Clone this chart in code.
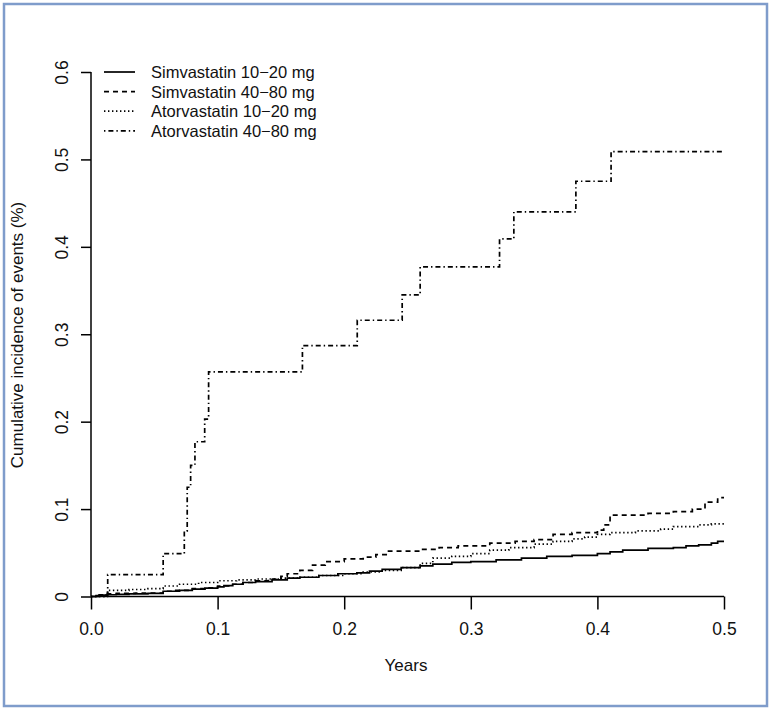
<!DOCTYPE html>
<html>
<head>
<meta charset="utf-8">
<script src="https://cdn.jsdelivr.net/npm/d3@7"></script>
<style>
  body { margin: 0; background: #fff; }
  svg { display: block; font-family: "Liberation Sans", Arial, sans-serif; }
</style>
</head>
<body>
<div id="km-chart"></div>
<script>
// cumulative incidence (years, proportion)
const simva1020Time = [0, 0.004, 0.008, 0.012, 0.02, 0.03, 0.045, 0.057, 0.07, 0.08, 0.09, 0.1, 0.105, 0.112, 0.12, 0.13, 0.143, 0.155, 0.165, 0.18, 0.195, 0.21, 0.22, 0.23, 0.245, 0.26, 0.27, 0.285, 0.3, 0.32, 0.34, 0.36, 0.38, 0.4, 0.41, 0.42, 0.44, 0.46, 0.47, 0.48, 0.49, 0.495, 0.5];
const simva1020Cum = [0, 0.001, 0.0015, 0.002, 0.0025, 0.003, 0.0035, 0.006, 0.007, 0.0085, 0.0095, 0.011, 0.0125, 0.014, 0.016, 0.017, 0.019, 0.021, 0.022, 0.024, 0.026, 0.027, 0.029, 0.031, 0.033, 0.035, 0.037, 0.039, 0.040, 0.042, 0.044, 0.046, 0.047, 0.049, 0.051, 0.053, 0.055, 0.056, 0.058, 0.059, 0.061, 0.063, 0.063];

const simva4080Time = [0, 0.005, 0.01, 0.02, 0.035, 0.057, 0.065, 0.08, 0.09, 0.1, 0.11, 0.12, 0.13, 0.14, 0.15, 0.155, 0.165, 0.175, 0.185, 0.2, 0.215, 0.225, 0.235, 0.26, 0.275, 0.29, 0.315, 0.335, 0.35, 0.365, 0.38, 0.4, 0.405, 0.41, 0.44, 0.46, 0.475, 0.485, 0.495, 0.5];
const simva4080Cum = [0, 0.002, 0.003, 0.0035, 0.004, 0.006, 0.007, 0.009, 0.01, 0.012, 0.014, 0.016, 0.018, 0.02, 0.023, 0.026, 0.03, 0.036, 0.04, 0.043, 0.045, 0.048, 0.052, 0.054, 0.056, 0.058, 0.061, 0.063, 0.065, 0.071, 0.073, 0.076, 0.082, 0.093, 0.095, 0.097, 0.1, 0.108, 0.113, 0.113];

const atorva1020Time = [0, 0.013, 0.03, 0.045, 0.057, 0.07, 0.085, 0.1, 0.115, 0.13, 0.15, 0.165, 0.18, 0.2, 0.215, 0.23, 0.245, 0.26, 0.27, 0.285, 0.3, 0.315, 0.33, 0.35, 0.365, 0.38, 0.39, 0.4, 0.41, 0.43, 0.45, 0.46, 0.48, 0.49, 0.5];
const atorva1020Cum = [0, 0.007, 0.008, 0.009, 0.012, 0.014, 0.016, 0.018, 0.019, 0.020, 0.021, 0.022, 0.024, 0.026, 0.028, 0.030, 0.033, 0.038, 0.044, 0.046, 0.049, 0.053, 0.056, 0.060, 0.063, 0.066, 0.068, 0.071, 0.073, 0.075, 0.077, 0.080, 0.082, 0.083, 0.083];

const atorva4080Time = [0, 0.0132, 0.057, 0.0737, 0.076, 0.0787, 0.0821, 0.0898, 0.0929, 0.167, 0.2103, 0.2458, 0.26, 0.3227, 0.334, 0.383, 0.4108, 0.5];
const atorva4080Cum = [0, 0.025, 0.049, 0.075, 0.125, 0.15, 0.177, 0.203, 0.257, 0.287, 0.316, 0.345, 0.377, 0.409, 0.44, 0.475, 0.509, 0.509];

const legendLabels = ["Simvastatin 10\u221220 mg", "Simvastatin 40\u221280 mg", "Atorvastatin 10\u221220 mg", "Atorvastatin 40\u221280 mg"];
const xTicks = [0, 0.1, 0.2, 0.3, 0.4, 0.5];
const yTicks = [0, 0.1, 0.2, 0.3, 0.4, 0.5, 0.6];

const width = 773;
const height = 713;
const margin = { top: 72, right: 49, bottom: 116, left: 91 };

const series = [
  { name: legendLabels[0], time: simva1020Time, cum: simva1020Cum, dash: null },
  { name: legendLabels[1], time: simva4080Time, cum: simva4080Cum, dash: "5,4" },
  { name: legendLabels[2], time: atorva1020Time, cum: atorva1020Cum, dash: "1.4,2.6" },
  { name: legendLabels[3], time: atorva4080Time, cum: atorva4080Cum, dash: "1.4,3,5,3" }
];

const xScale = d3
  .scaleLinear()
  .domain([0, 0.5])
  .range([margin.left, width - margin.right]);

const yScale = d3
  .scaleLinear()
  .domain([0, 0.6])
  .range([height - margin.bottom - 0.5, margin.top]);

const svg = d3
  .select("#km-chart")
  .append("svg")
  .attr("width", width)
  .attr("height", height);

// blue picture frame
svg
  .append("rect")
  .attr("x", 4)
  .attr("y", 4)
  .attr("width", 763)
  .attr("height", 702)
  .attr("fill", "none")
  .attr("stroke", "#7f9ccb")
  .attr("stroke-width", 2.5);

const xAxis = d3
  .axisBottom(xScale)
  .tickValues(xTicks)
  .tickFormat(d3.format(".1f"))
  .tickSize(13)
  .tickPadding(13);

const yAxis = d3
  .axisLeft(yScale)
  .tickValues(yTicks)
  .tickFormat(d => (d === 0 ? "0" : d3.format(".1f")(d)))
  .tickSize(10)
  .tickPadding(0);

const gx = svg
  .append("g")
  .attr("transform", "translate(0," + yScale(0) + ")")
  .call(xAxis);
gx.select(".domain").attr("d", "M" + xScale(0) + ",0H" + xScale(0.5));
gx.selectAll("line, path").attr("stroke", "#000").attr("stroke-width", 1.5);
gx.selectAll("text").attr("font-size", 17.5).attr("fill", "#111");

const gy = svg
  .append("g")
  .attr("transform", "translate(" + xScale(0) + ",0)")
  .call(yAxis);
gy.select(".domain").attr("d", "M0," + yScale(0) + "V" + yScale(0.6));
gy.selectAll("line, path").attr("stroke", "#000").attr("stroke-width", 1.5);
gy.selectAll("text")
  .attr("font-size", 17.5)
  .attr("fill", "#111")
  .attr("text-anchor", "middle")
  .attr("dy", null)
  .attr("transform", "translate(-29,0) rotate(-90)")
  .attr("x", 0)
  .attr("y", 6);

// axis titles
svg
  .append("text")
  .attr("x", 406)
  .attr("y", 671)
  .attr("text-anchor", "middle")
  .attr("font-size", 17)
  .attr("fill", "#111")
  .text("Years");

svg
  .append("text")
  .attr("transform", "translate(23,335) rotate(-90)")
  .attr("text-anchor", "middle")
  .attr("font-size", 17)
  .attr("fill", "#111")
  .text("Cumulative incidence of events (%)");

const stepLine = d3
  .line()
  .curve(d3.curveStepAfter)
  .x(d => xScale(d[0]))
  .y(d => yScale(d[1]));

series.forEach(s => {
  const pts = s.time.map((t, i) => [t, s.cum[i]]);
  svg
    .append("path")
    .datum(pts)
    .attr("d", stepLine)
    .attr("fill", "none")
    .attr("stroke", "#000")
    .attr("stroke-width", 1.7)
    .attr("stroke-dasharray", s.dash);
});

// legend
const legend = svg.append("g").attr("transform", "translate(104,72)");
series.forEach((s, i) => {
  const row = legend.append("g").attr("transform", "translate(0," + i * 19.6 + ")");
  row
    .append("line")
    .attr("x1", 0)
    .attr("x2", 31)
    .attr("y1", 0)
    .attr("y2", 0)
    .attr("stroke", "#000")
    .attr("stroke-width", 1.7)
    .attr("stroke-dasharray", s.dash);
  row
    .append("text")
    .attr("x", 47)
    .attr("y", 6)
    .attr("font-size", 16.5)
    .attr("fill", "#111")
    .text(s.name);
});
</script>
</body>
</html>
